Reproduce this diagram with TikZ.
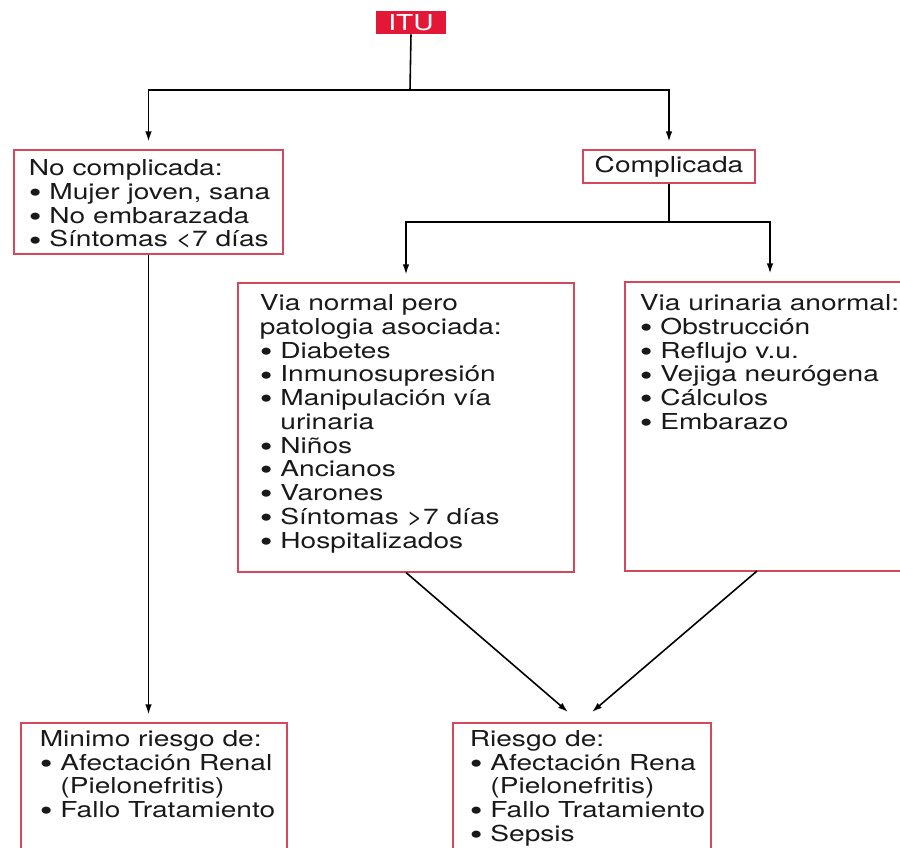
\documentclass[tikz,border=0pt]{standalone}
\usepackage{fontspec}
\setmainfont{TeX Gyre Heros}[FakeStretch=1.28]
\usetikzlibrary{positioning,fit,arrows.meta}
\definecolor{itured}{RGB}{226,24,54}
\definecolor{boxred}{RGB}{212,72,92}
\definecolor{inkgray}{RGB}{25,25,25}
\tikzset{
  box/.style={draw=boxred, line width=0.6pt, inner sep=0pt},
  txt/.style={inner sep=0pt, align=left, text=inkgray, font=\fontsize{12.5}{13.5}\selectfont},
  lin/.style={line width=0.9pt},
  arr/.style={lin, -{Latex[length=2mm,width=1.3mm]}, shorten >=1.6mm}
}
\newcommand{\bul}{\smash{\raisebox{-0.14em}{\scalebox{1.3}{\textbullet}}}\ }
\newcommand{\sangria}{\phantom{\bul}}

\begin{document}
\begin{tikzpicture}[x=0.02cm,y=-0.02cm]
\clip (0,0) rectangle (900,848);
\node[fill=itured, inner sep=0pt, fit={(376,11) (446,34)}] (itu) {};
\node[box, fit={(583,150) (755,183)}] (comp) {};
\node[box, fit={(14,150) (283,254)}] (nocomp) {};
\node[box, fit={(238,283) (574,572)}] (vianormal) {};
\node[box, fit={(625,282) (915,571)}] (anormal) {};
\node[box, fit={(21,723) (287,870)}] (minimo) {};
\node[box, fit={(453,723) (711,870)}] (riesgo) {};

\node[txt, text=white] (itutxt) at (itu.center) {ITU};
\node[txt] (comptxt) at (comp.center) {Complicada};
\node[txt, below right=0.2cm and 0.3cm of nocomp.north west] (nocomptxt) {No complicada:\\
\bul Mujer joven, sana\\
\bul No embarazada\\
\bul Síntomas <7 días};
\node[txt, below right=0.24cm and 0.44cm of vianormal.north west] (vianormaltxt) {Via normal pero\\
patologia asociada:\\
\bul Diabetes\\
\bul Inmunosupresión\\
\bul Manipulación vía\\
\sangria urinaria\\
\bul Niños\\
\bul Ancianos\\
\bul Varones\\
\bul Síntomas >7 días\\
\bul Hospitalizados};
\node[txt, below right=0.26cm and 0.3cm of anormal.north west] (anormaltxt) {Via urinaria anormal:\\
\bul Obstrucción\\
\bul Reflujo v.u.\\
\bul Vejiga neurógena\\
\bul Cálculos\\
\bul Embarazo};
\node[txt, below right=0.15cm and 0.38cm of minimo.north west] (minimotxt) {Minimo riesgo de:\\
\bul Afectación Renal\\
\sangria (Pielonefritis)\\
\bul Fallo Tratamiento};
\node[txt, below right=0.15cm and 0.34cm of riesgo.north west] (riesgotxt) {Riesgo de:\\
\bul Afectación Rena\\
\sangria (Pielonefritis)\\
\bul Fallo Tratamiento\\
\bul Sepsis};

\coordinate (split1) at (410,90);
\coordinate (split2) at (669,222);
\coordinate (salida2) at (757,571);
\coordinate (punta1) at (568,712);
\coordinate (punta2) at (592,712);

\draw[lin] (itu.south) -- (split1);
\draw[arr] (split1) -| (nocomp.north);
\draw[arr] (split1) -| (comp.north);
\draw[lin] (comp.south) -- (split2);
\draw[arr] (split2) -| (vianormal.north);
\draw[arr] (split2) -| (anormal.north);
\draw[arr] (nocomp.south) -- (nocomp.south |- minimo.north);
% flechas hacia riesgo
\draw[arr, shorten >=0pt] (vianormal.south) -- (punta1);
\draw[arr, shorten >=0pt] (salida2) -- (punta2);
\end{tikzpicture}
\end{document}
